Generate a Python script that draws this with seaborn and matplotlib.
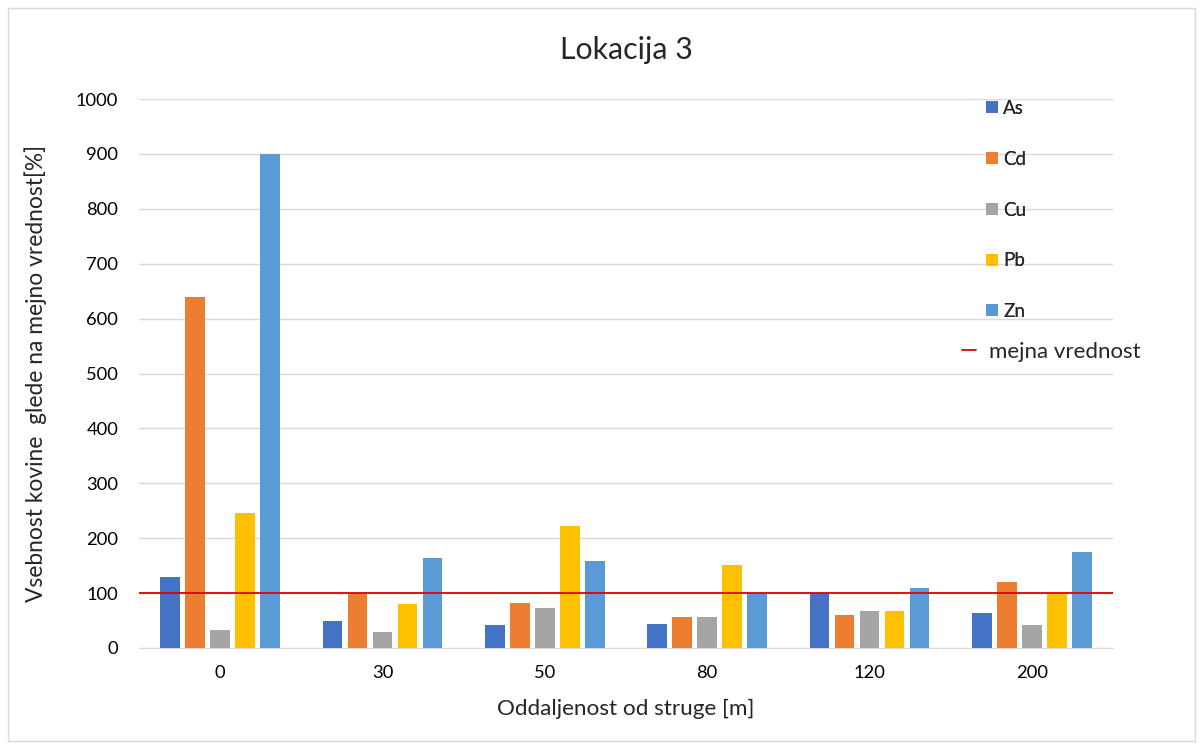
import pandas as pd
import numpy as np
import matplotlib
matplotlib.use("Agg")
import matplotlib.pyplot as plt
import seaborn as sns
from matplotlib.patches import Patch, Rectangle
from matplotlib.lines import Line2D

# Data
distances = ["0", "30", "50", "80", "120", "200"]
metals = ["As", "Cd", "Cu", "Pb", "Zn"]
as_vals = [129, 49, 42, 44, 100, 64]
cd_vals = [640, 100, 82, 56, 60, 120]
cu_vals = [32, 30, 72, 56, 67, 41]
pb_vals = [246, 80, 223, 152, 67, 100]
zn_vals = [900, 164, 159, 100, 109, 174]
limit_value = 100
colors = ["#4472C4", "#ED7D31", "#A5A5A5", "#FFC000", "#5B9BD5"]
limit_color = "#E00000"

# Long-format table for seaborn
rows = []
for metal, vals in zip(metals, [as_vals, cd_vals, cu_vals, pb_vals, zn_vals]):
    for d, v in zip(distances, vals):
        rows.append({"distance": d, "metal": metal, "value": v})
df = pd.DataFrame(rows)

sns.set_style("white")
plt.rcParams["font.family"] = ["Lato", "DejaVu Sans"]

W, H = 1203, 749
fig = plt.figure(figsize=(W / 100, H / 100), dpi=100)
ax = fig.add_axes([139 / W, 1 - 648 / H, (1113 - 139) / W, (648 - 99) / H])

sns.barplot(data=df, x="distance", y="value", hue="metal", order=distances,
            hue_order=metals, palette=colors, saturation=1, width=0.77, gap=0.22,
            edgecolor="none", ax=ax, legend=False, zorder=3)

ax.axhline(limit_value, color=limit_color, linewidth=1.3, zorder=4)

ax.set_ylim(0, 1000)
ax.set_yticks(np.arange(0, 1001, 100))
ax.grid(axis="y", color="#D9D9D9", linewidth=1, zorder=0)
for s in ["top", "right", "left"]:
    ax.spines[s].set_visible(False)
ax.spines["bottom"].set_color("#D9D9D9")
ax.tick_params(axis="both", length=0, labelsize=13.2, colors="#000000")
ax.tick_params(axis="y", pad=15)
ax.tick_params(axis="x", pad=12)

ax.set_title("Lokacija 3", fontsize=21.8, pad=29)
ax.set_xlabel("Oddaljenost od struge [m]", fontsize=16.2)
ax.set_ylabel("Vsebnost kovine  glede na mejno vrednost[%]", fontsize=16.4)
ax.xaxis.set_label_coords(0.5, -0.093)
ax.yaxis.set_label_coords(-0.094, 0.5)

# legend for the metals
handles = [Patch(facecolor=c, edgecolor="none") for c in colors]
leg1 = fig.legend(handles, metals, loc="upper left", bbox_to_anchor=(986 / W, 1 - 100 / H),
                  frameon=False, fontsize=13.5, labelspacing=1.8, handlelength=0.64,
                  handleheight=0.6, handletextpad=0.27, borderpad=0, borderaxespad=0)
fig.add_artist(leg1)

# legend for the limit line
fig.legend([Line2D([0], [0], color=limit_color, linewidth=1.3)], ["mejna vrednost"],
           loc="center left", bbox_to_anchor=(962 / W, 1 - 352 / H), frameon=False,
           fontsize=16, handlelength=0.63, handletextpad=0.6, borderpad=0, borderaxespad=0)

# light frame around the chart
fig.patches.append(Rectangle((8 / W, 8 / H), 1 - 16 / W, 1 - 16 / H,
                             transform=fig.transFigure, fill=False,
                             edgecolor="#D9D9D9", linewidth=1))

fig.savefig("out.png", dpi=100)
